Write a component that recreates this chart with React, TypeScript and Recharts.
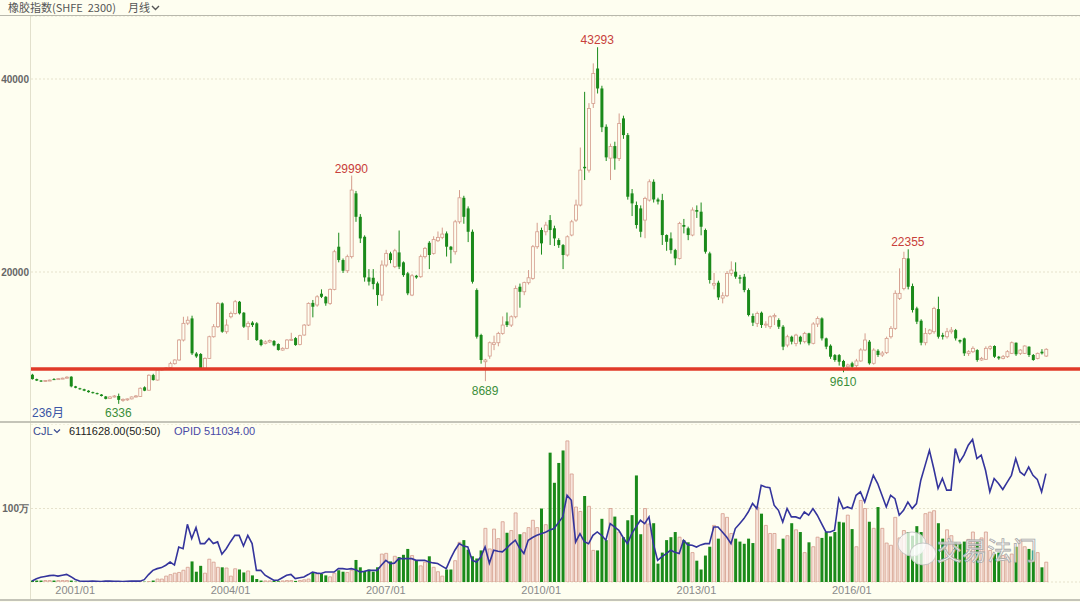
import React from "react";
import {
  ComposedChart,
  Bar,
  Line,
  XAxis,
  YAxis,
  CartesianGrid,
  ReferenceLine,
  ReferenceDot,
  Cell,
} from "recharts";

/* ================= DATA (monthly, 236 bars) ================= */
const opens = [
  9350, 8900, 8750, 8650, 8750, 8900, 8880, 8950, 9000, 9150,
  8150, 7950, 7850, 7700, 7550, 7450, 7300, 7100, 6900, 7050,
  7150, 6750, 6750, 6850, 7050, 7100, 8050, 7750, 9320, 8800,
  9850, 9950, 10100, 10500, 10880, 12950, 14700, 15190, 11550, 11500,
  10020, 11050, 13290, 14330, 16750, 13810, 15360, 15710, 16920, 15780,
  14330, 14750, 14680, 12950, 12600, 12750, 12850, 12540, 11910, 12090,
  12950, 13150, 12500, 13470, 14500, 16800, 16580, 17750, 17430, 16750,
  18200, 22620, 21240, 20130, 21590, 28150, 25720, 23650, 19440, 19400,
  18820, 17610, 20720, 21930, 20550, 22030, 21000, 19860, 17610, 19610,
  19510, 21590, 23030, 21930, 23240, 23590, 24000, 22620, 22100, 25200,
  27690, 26590, 24170, 18130, 13470, 10700, 11290, 12500, 12670, 13640,
  14880, 14500, 15360, 18470, 17950, 18890, 19340, 22620, 24350, 24170,
  25380, 24530, 23310, 22790, 21760, 23830, 25380, 26940, 30900, 30560,
  37470, 41090, 39020, 35050, 31800, 33050, 31770, 35920, 34190, 28150,
  26940, 26590, 25380, 27450, 29350, 27520, 27450, 23830, 23480, 22270,
  21410, 24870, 24530, 23830, 26420, 26250, 24350, 21930, 18650, 18890,
  17300, 17540, 19860, 20030, 19450, 19510, 18130, 15440, 14680, 15780,
  14500, 14330, 15360, 15020, 14330, 12430, 13290, 12600, 13290, 12780,
  13640, 12610, 14610, 15190, 13120, 12360, 11390, 11390, 10780, 10180,
  10540, 10290, 10780, 11920, 12780, 10540, 11840, 11400, 11640, 13290,
  14160, 17270, 18300, 21410, 18540, 16230, 14950, 12670, 13640, 13810,
  16160, 13460, 13290, 13810, 13980, 12950, 13120, 11570, 11740, 11910,
  10880, 10950, 12090, 12330, 11220, 11050, 11220, 11570, 12670, 11570,
  11570, 12260, 11400, 11050, 11740, 11290,
];

const highs = [
  9450, 8950, 8800, 8800, 8850, 9000, 9000, 9050, 9200, 9200,
  8200, 8000, 7900, 7750, 7600, 7500, 7350, 7150, 7150, 7250,
  7400, 6900, 6900, 7100, 7250, 8050, 8150, 9400, 9450, 9900,
  10050, 10150, 10700, 10950, 13050, 15360, 15400, 15470, 11700, 11600,
  11150, 13400, 14600, 16900, 16850, 15100, 15900, 17100, 17000, 15850,
  14900, 14900, 14800, 13050, 12900, 13000, 12950, 12600, 12200, 13050,
  13700, 13250, 13500, 14600, 16850, 17100, 17600, 18200, 17500, 18300,
  22300, 24070, 21400, 21800, 29990, 28400, 26000, 23800, 20300, 20300,
  19000, 21200, 22300, 22100, 22400, 24300, 21100, 20000, 19800, 19700,
  21800, 22600, 23200, 23700, 24200, 24600, 24200, 22700, 25400, 28490,
  27900, 26800, 24400, 18300, 13600, 11000, 12800, 13400, 13800, 15400,
  15800, 15500, 18600, 18800, 19000, 20200, 22800, 25100, 24600, 25200,
  25900, 24800, 23500, 22900, 23800, 25400, 27500, 32900, 38670, 37500,
  41620, 43293, 39300, 35300, 33300, 33500, 36430, 36200, 34400, 28600,
  27300, 26900, 27800, 29600, 29600, 27700, 28100, 23900, 24100, 22400,
  25200, 25500, 24700, 26700, 26900, 27200, 24500, 22100, 19900, 19100,
  17900, 20100, 21100, 21000, 19700, 19800, 18300, 15700, 15900, 15900,
  14900, 15500, 15700, 15200, 14500, 13500, 13400, 13600, 13400, 13800,
  13700, 14800, 15400, 15300, 13200, 12500, 11500, 11500, 10900, 10500,
  10700, 11000, 12100, 13640, 12950, 12100, 12000, 11800, 13300, 14400,
  18100, 20380, 22100, 22355, 18800, 16400, 15100, 14200, 14100, 16400,
  17440, 13700, 14200, 14300, 14100, 13000, 13200, 11900, 12300, 12000,
  11200, 12300, 12400, 12400, 11300, 11400, 11900, 12800, 12700, 12000,
  12400, 12300, 11500, 11650, 12000, 12100,
];

const lows = [
  8850, 8700, 8600, 8600, 8700, 8850, 8850, 8900, 8950, 8050,
  7950, 7800, 7650, 7500, 7400, 7300, 7100, 6800, 6850, 7000,
  6336, 6550, 6650, 6800, 7000, 7050, 7650, 7700, 8750, 8750,
  9750, 9850, 10050, 10400, 10800, 12800, 14500, 11400, 11100, 9950,
  9950, 11000, 13200, 14200, 13700, 13600, 15200, 15600, 15600, 14200,
  12950, 14300, 12850, 12300, 12500, 12650, 12300, 11850, 11850, 12000,
  12850, 12350, 12400, 13400, 14400, 15300, 16400, 17300, 16500, 16600,
  18100, 21000, 19900, 19900, 21400, 25200, 23000, 19000, 18600, 18200,
  16500, 17000, 20500, 20900, 20400, 20300, 19500, 17600, 17500, 19300,
  19400, 21400, 20300, 21800, 23100, 23400, 21600, 20900, 21800, 25000,
  25000, 23100, 18800, 13100, 10500, 8689, 11000, 11900, 12300, 13500,
  14300, 14300, 15200, 16300, 17600, 18700, 19200, 22400, 21800, 23800,
  22800, 22700, 22500, 20300, 21600, 23700, 25200, 26800, 29530, 30300,
  37000, 38500, 34500, 31500, 29530, 30600, 31500, 33800, 27500, 25800,
  24500, 23600, 23500, 27300, 27200, 27000, 22800, 22200, 21900, 20700,
  21300, 24000, 23300, 23700, 25600, 23800, 21900, 18800, 18200, 17100,
  16750, 17400, 19600, 19300, 18800, 17900, 15400, 14400, 14300, 14200,
  14200, 14100, 14500, 14100, 11900, 12200, 12500, 12300, 12500, 12600,
  12400, 12500, 14300, 12900, 12000, 11000, 10700, 10300, 9610, 9800,
  9900, 10100, 10700, 11800, 10400, 10400, 11200, 11200, 11500, 13100,
  14000, 17100, 18100, 18200, 15800, 14600, 12400, 12400, 13500, 13600,
  13100, 13000, 13100, 13600, 12900, 12600, 11300, 11300, 11600, 10700,
  10800, 10900, 11900, 11100, 10900, 10950, 11100, 11500, 11300, 11400,
  11500, 11200, 10800, 10950, 11450, 11200,
];

const closes = [
  8900, 8750, 8650, 8750, 8800, 8880, 8950, 9000, 9100, 8150,
  8000, 7850, 7700, 7550, 7450, 7350, 7150, 6850, 7050, 7150,
  6750, 6800, 6850, 7050, 7150, 7950, 7700, 9300, 8800, 9840,
  9950, 10050, 10500, 10880, 12950, 14680, 15000, 11570, 11250, 10020,
  11050, 13290, 14330, 16750, 13810, 14500, 15710, 16920, 15715, 14330,
  14680, 14500, 12950, 12430, 12750, 12900, 12400, 11920, 12090, 12950,
  13020, 12430, 13400, 14500, 16750, 16400, 17430, 17430, 16750, 18200,
  22100, 21240, 20130, 21590, 28490, 25720, 23480, 19440, 19000, 18750,
  17610, 20720, 21930, 21240, 22200, 20550, 19680, 17790, 19610, 19440,
  21590, 22450, 21760, 23380, 23590, 23930, 22620, 22300, 25200, 27690,
  25720, 24170, 18990, 13290, 10880, 10880, 12670, 12670, 13640, 14500,
  14500, 15360, 18300, 17950, 18900, 19400, 22620, 24170, 22970, 24860,
  24350, 23480, 22790, 21760, 23650, 25200, 26940, 30560, 30750, 36950,
  40580, 39020, 35000, 31880, 33000, 31770, 35400, 34190, 27800, 27110,
  24870, 24170, 27630, 29350, 27520, 27300, 23830, 23130, 22270, 21410,
  25040, 24690, 23830, 26420, 26250, 24690, 22100, 19170, 18820, 17370,
  17540, 19860, 20200, 19510, 19300, 18130, 15540, 14750, 15710, 14510,
  14600, 15360, 15500, 14330, 12260, 13290, 12780, 13460, 12780, 13640,
  12610, 14610, 15190, 13120, 12260, 11220, 10880, 10700, 10180, 10360,
  10180, 10780, 11920, 12950, 10540, 11910, 11400, 11600, 13120, 14160,
  17790, 17790, 21410, 18470, 16060, 14850, 12670, 13640, 13980, 16230,
  13290, 13290, 13810, 13980, 13120, 12780, 11570, 11740, 12090, 10880,
  11050, 12090, 12260, 11220, 11050, 11220, 11740, 12670, 11470, 11910,
  12330, 11400, 10880, 11570, 11570, 11990,
];

// CJL, in 万
const volumes = [
  2, 2, 2, 2, 2, 2, 2, 2, 2, 2,
  0.5, 0.5, 0.5, 0.5, 0.5, 0.5, 0.5, 0.5, 0.5, 0.5,
  0.5, 0.5, 0.5, 0.5, 0.5, 0.5, 0.5, 0.5, 2, 4,
  4, 8, 10, 12, 13, 16, 20, 28, 14, 22,
  12, 31, 27, 20, 20, 19, 8, 18, 17, 13,
  15, 9, 4, 2, 1.5, 1.5, 1.5, 1, 1.5, 2,
  2, 1.5, 2, 3, 4, 13, 11, 11, 9, 7,
  12, 16, 14, 13, 16, 30, 20, 15, 17, 14,
  20, 38, 39, 28, 35, 34, 37, 45, 36, 29,
  22, 27, 35, 20, 14, 8, 17, 17, 29, 54,
  57, 44, 35, 32, 43, 73, 45, 72, 59, 82,
  67, 70, 94, 65, 67, 74, 84, 74, 100, 78,
  176, 135, 162, 179, 192, 147, 102, 96, 117, 103,
  43, 43, 86, 57, 100, 89, 68, 61, 84, 91,
  145, 65, 100, 79, 80, 25, 40, 57, 61, 68,
  61, 57, 54, 40, 29, 17, 36, 48, 77, 59,
  93, 88, 66, 59, 55, 52, 59, 53, 102, 93,
  77, 66, 66, 45, 59, 63, 80, 71, 68, 40,
  54, 48, 61, 60, 68, 62, 68, 82, 81, 91,
  72, 48, 111, 100, 82, 73, 102, 73, 53, 50,
  88, 60, 70, 68, 63, 76, 68, 93, 95, 97,
  80, 59, 71, 63, 54, 52, 55, 58, 68, 54,
  60, 68, 43, 38, 40, 36, 34, 38, 48, 57,
  48, 45, 43, 40, 20, 27,
];

// OPID, in 万
const opid = [
  0.5, 1.5, 2.2, 2.6, 3.0, 3.2, 2.8, 3.2, 3.6, 2.5,
  1.2, 0.5, 0.3, 0.3, 0.4, 0.3, 0.2, 0.4, 0.5, 0.3,
  0.3, 0.2, 0.3, 0.4, 0.5, 0.4, 1.1, 3.5, 5.5, 6.3,
  6.8, 7.9, 9.4, 8.0, 16.5, 15.7, 27.2, 20.5, 25.7, 18.1,
  18.1, 20.5, 18.1, 18.9, 13.1, 15.7, 19.0, 22.0, 22.0, 17.0,
  22.0, 18.1, 5.5, 5.5, 3.2, 2.0, 0.8, 0.8, 2.0, 3.2,
  3.6, 1.6, 2.0, 2.4, 3.5, 4.7, 4.2, 4.0, 4.7, 4.7,
  4.7, 6.3, 6.3, 6.0, 6.3, 5.8, 4.7, 5.0, 5.5, 5.5,
  5.5, 8.0, 10.2, 8.7, 8.9, 11.0, 11.0, 11.0, 11.0, 10.2,
  10.2, 10.2, 9.4, 9.0, 8.7, 7.5, 6.3, 11.0, 15.0, 18.1,
  17.0, 16.5, 10.2, 9.4, 11.8, 16.5, 8.9, 15.0, 14.5, 14.2,
  16.0, 18.0, 19.7, 16.0, 13.4, 19.7, 21.0, 22.0, 22.8, 23.5,
  24.5, 25.2, 28.0, 30.7, 40.9, 38.5, 18.9, 22.8, 19.0, 18.1,
  22.0, 23.6, 22.0, 19.7, 27.5, 26.0, 24.4, 21.0, 18.1, 22.8,
  26.0, 29.1, 27.5, 30.7, 18.1, 10.2, 12.0, 13.4, 15.0, 14.0,
  13.4, 19.7, 17.5, 17.3, 16.5, 17.5, 18.1, 18.1, 25.9, 25.9,
  23.6, 21.2, 18.1, 25.2, 27.5, 29.9, 33.0, 37.0, 34.6, 45.6,
  44.8, 44.5, 36.2, 33.8, 28.3, 34.6, 30.7, 30.7, 29.9, 33.0,
  31.5, 34.6, 31.5, 27.5, 23.6, 23.6, 24.4, 39.3, 34.6, 35.4,
  34.6, 40.9, 42.5, 37.7, 44.1, 50.3, 46.4, 40.9, 35.4, 40.9,
  39.3, 31.5, 33.8, 37.7, 34.6, 37.0, 48.0, 55.0, 62.1, 53.5,
  44.1, 48.8, 43.3, 43.3, 62.9, 56.6, 59.8, 64.5, 67.2, 58.2,
  59.8, 52.7, 42.5, 48.8, 46.4, 43.6, 47.0, 50.3, 58.2, 51.9,
  50.3, 54.2, 50.3, 48.4, 42.5, 51.1,
];

const yearTicks = [10, 46, 82, 118, 154, 190];
const yearLabels = ["2001/01", "2004/01", "2007/01", "2010/01", "2013/01", "2016/01"];

const peakIdx = [74, 131, 203];
const peakVals = [29990, 43293, 22355];
const troughIdx = [20, 105, 188];
const troughVals = [6336, 8689, 9610];

const supportLevel = 9950;

/* ================= COLORS ================= */
const BG = "#FEFEF0";
const UP = "#D49C8C";
const UP_FILL = "#F7E4DB";
const DOWN = "#1A8A1A";
const RED = "#C8403A";
const GREEN_TXT = "#3B8E3B";
const BLUE = "#34349C";

const rows = closes.map((c, i) => ({
  i,
  open: opens[i],
  high: highs[i],
  low: lows[i],
  close: c,
  range: [lows[i], highs[i]],
  vol: volumes[i],
  opid: opid[i],
}));

const X_DOMAIN: [number, number] = [-0.25, 242.9];

/* ================= CANDLE SHAPE ================= */
const Candle = (props: any) => {
  const { x, y, width, height, payload } = props;
  if (x == null || y == null || !payload) return null;
  const { open, close, high, low } = payload;
  const up = close >= open;
  const top = Math.min(y, y + height);
  const h = Math.abs(height);
  const k = high === low ? 0 : h / (high - low);
  const yO = top + (high - open) * k;
  const yC = top + (high - close) * k;
  const cx = x + width / 2;
  const bTop = Math.min(yO, yC);
  const bH = Math.max(1, Math.abs(yO - yC));
  const col = up ? UP : DOWN;
  return (
    <g>
      <line x1={cx} x2={cx} y1={top} y2={top + h} stroke={col} strokeWidth={1} />
      <rect
        x={x}
        y={bTop}
        width={width}
        height={bH}
        fill={up ? BG : DOWN}
        stroke={up ? UP : "none"}
        strokeWidth={up ? 0.8 : 0}
      />
    </g>
  );
};

export default function App() {
  const abs = (l: number, t: number): React.CSSProperties => ({
    position: "absolute",
    left: l,
    top: t,
  });

  return (
    <div
      style={{
        position: "absolute",
        left: 0,
        top: 0,
        width: 1080,
        height: 602,
        background: BG,
        overflow: "hidden",
        fontFamily: "'Liberation Sans', Arial, sans-serif",
      }}
    >
      {/* -------- header -------- */}
      <div style={{ ...abs(0, 15), width: 1080, height: 1, background: "#b8b8ac" }} />
      <div
        style={{
          ...abs(8, 0),
          fontSize: 11,
          lineHeight: "15px",
          color: "#555",
          fontFamily: "'Noto Sans CJK SC', sans-serif",
          whiteSpace: "pre",
        }}
      >
        橡胶指数(SHFE  2300)
      </div>
      <div
        style={{
          ...abs(128, 0),
          fontSize: 11,
          lineHeight: "15px",
          color: "#555",
          fontFamily: "'Noto Sans CJK SC', sans-serif",
        }}
      >
        月线
      </div>
      <svg style={abs(151, 4)} width={10} height={8}>
        <polyline points="1,2 4.5,5.5 8,2" fill="none" stroke="#555" strokeWidth={1.4} />
      </svg>

      {/* left border line */}
      <div style={{ ...abs(30, 16), width: 1, height: 584, background: "#e2e0cc" }} />

      {/* -------- price panel -------- */}
      <div style={{ ...abs(0, 16), width: 1080, height: 406 }}>
        <ComposedChart
          width={1080}
          height={406}
          data={rows}
          margin={{ top: 0, right: 0, bottom: 0, left: 0 }}
        >
          <CartesianGrid vertical={false} stroke="#e6e2cc" strokeDasharray="2 2" />
          <XAxis dataKey="i" type="number" domain={X_DOMAIN} hide allowDataOverflow />
          <YAxis
            type="number"
            domain={[4455, 46530]}
            ticks={[20000, 40000]}
            width={31}
            axisLine={false}
            tickLine={false}
            tickSize={0}
            tickMargin={2}
            allowDataOverflow
            tick={{ fill: "#666", fontSize: 10, fontWeight: "bold" }}
          />
          <ReferenceLine y={supportLevel} stroke="#E03A28" strokeWidth={3.5} />
          <Bar
            dataKey="range"
            barSize={3}
            shape={<Candle />}
            isAnimationActive={false}
          />
          {peakIdx.map((p, k) => (
            <ReferenceDot
              key={"p" + k}
              x={p}
              y={peakVals[k]}
              r={0}
              fill="none"
              stroke="none"
              label={{
                value: String(peakVals[k]),
                position: "top",
                offset: 3,
                fill: RED,
                fontSize: 12,
              }}
            />
          ))}
          {troughIdx.map((p, k) => (
            <ReferenceDot
              key={"t" + k}
              x={p}
              y={troughVals[k]}
              r={0}
              fill="none"
              stroke="none"
              label={{
                value: String(troughVals[k]),
                position: "bottom",
                offset: 5,
                fill: GREEN_TXT,
                fontSize: 12,
              }}
            />
          ))}
        </ComposedChart>
      </div>

      <div style={{ ...abs(32, 406), fontSize: 12, color: "#3A55A5", lineHeight: "15px", fontFamily: "'Liberation Sans', 'Noto Sans CJK SC', sans-serif" }}>
        236月
      </div>

      {/* separator */}
      <div style={{ ...abs(0, 421), width: 1080, height: 2, background: "#c4c4b8" }} />

      {/* -------- volume header -------- */}
      <div style={{ ...abs(33, 424), fontSize: 11, lineHeight: "14px", color: "#3A4A90", whiteSpace: "pre" }}>
        CJL
      </div>
      <svg style={abs(53, 428)} width={9} height={7}>
        <polyline points="1,1.5 4,4.5 7,1.5" fill="none" stroke="#3A4A90" strokeWidth={1.2} />
      </svg>
      <div style={{ ...abs(69, 424), fontSize: 11, lineHeight: "14px", color: "#222" }}>
        6111628.00(50:50)
      </div>
      <div style={{ ...abs(174, 424), fontSize: 11, lineHeight: "14px", color: "#4A4AA6" }}>
        OPID 511034.00
      </div>

      {/* -------- volume panel -------- */}
      <div style={{ ...abs(0, 424), width: 1080, height: 176 }}>
        <ComposedChart
          width={1080}
          height={176}
          data={rows}
          margin={{ top: 0, right: 0, bottom: 0, left: 0 }}
        >
          <CartesianGrid vertical={false} yAxisId="vol" stroke="#e6e2cc" strokeDasharray="2 2" />
          <XAxis
            dataKey="i"
            type="number"
            domain={X_DOMAIN}
            allowDataOverflow
            ticks={yearTicks}
            tickFormatter={(v: number) => yearLabels[yearTicks.indexOf(v)] ?? ""}
            axisLine={false}
            tickLine={false}
            tickSize={0}
            tickMargin={4}
            height={18}
            tick={{ fill: "#8a8a8a", fontSize: 11 }}
          />
          <YAxis
            yAxisId="vol"
            type="number"
            domain={[0, 215]}
            ticks={[100]}
            tickFormatter={(v: number) => `${v}万`}
            width={31}
            axisLine={false}
            tickLine={false}
            tickSize={0}
            tickMargin={2}
            allowDataOverflow
            tick={{ fill: "#666", fontSize: 10, fontWeight: "bold" }}
          />
          <YAxis yAxisId="opid" orientation="right" type="number" domain={[0, 74.5]} hide allowDataOverflow />
          <Bar yAxisId="vol" dataKey="vol" barSize={3} isAnimationActive={false}>
            {rows.map((r, k) => {
              const up = r.close >= r.open;
              return (
                <Cell
                  key={k}
                  fill={up ? UP_FILL : DOWN}
                  stroke={up ? UP : "none"}
                  strokeWidth={up ? 0.8 : 0}
                />
              );
            })}
          </Bar>
          <Line
            yAxisId="opid"
            type="linear"
            dataKey="opid"
            stroke={BLUE}
            strokeWidth={1.6}
            dot={false}
            isAnimationActive={false}
          />
        </ComposedChart>
      </div>

      {/* bottom border */}
      <div style={{ ...abs(0, 599), width: 1080, height: 2, background: "#c4c4b8" }} />

      {/* watermark */}
      <svg style={abs(895, 528)} width={160} height={44}>
        <ellipse cx={17} cy={16} rx={14} ry={12} fill="#ffffff" fillOpacity={0.75} stroke="#bbb" strokeWidth={0.8} />
        <ellipse cx={28} cy={26} rx={13} ry={11} fill="#ffffff" fillOpacity={0.75} stroke="#bbb" strokeWidth={0.8} />
        <text
          x={42}
          y={32}
          fontSize={25}
          fontFamily="'Noto Sans CJK SC', sans-serif"
          fill="#ffffff"
          fillOpacity={0.8}
          stroke="#a8a8a8"
          strokeWidth={0.8}
        >
          交易法门
        </text>
      </svg>
    </div>
  );
}
